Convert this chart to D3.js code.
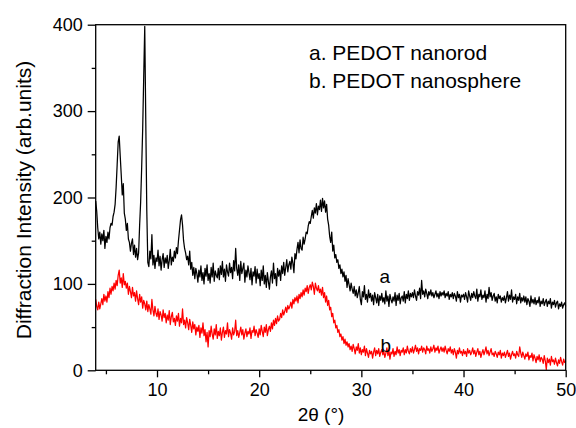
<!DOCTYPE html>
<html>
<head>
<meta charset="utf-8">
<script src="https://cdn.jsdelivr.net/npm/d3@7"></script>
<style>
  body { margin: 0; background: #fff; }
  svg text { font-family: "Liberation Sans", Arial, sans-serif; fill: #000; }
</style>
</head>
<body>
<svg width="576" height="428"></svg>
<script>
// scan: 2θ from 4 to 50 deg, step 0.1
const scanStart = 4, scanStep = 0.1;

// a. PEDOT nanorod (black)
const nanorod = [
  196, 184, 165, 152, 160, 146, 158, 150, 162, 141,
  155, 148, 160, 152, 165, 170, 168, 178, 183, 192,
  212, 238, 264, 271, 248, 226, 203, 216, 182, 175,
  162, 170, 152, 148, 138, 147, 152, 134, 145, 131,
  141, 128, 136, 168, 195, 235, 280, 340, 398, 290,
  185, 125, 120, 138, 129, 157, 122, 133, 118, 130,
  126, 139, 121, 132, 116, 128, 135, 119, 130, 124,
  133, 118, 127, 140, 122, 131, 126, 138, 130, 142,
  135, 150, 162, 174, 180, 168, 150, 141, 136, 128,
  132, 122, 138, 117, 125, 110, 119, 106, 118, 112,
  102, 116, 108, 121, 104, 113, 100, 118, 109, 122,
  104, 112, 101, 119, 108, 124, 103, 115, 110, 107,
  118, 105, 121, 111, 126, 108, 117, 103, 122, 114,
  109, 124, 113, 119, 106, 127, 115, 141, 118, 110,
  122, 104, 126, 112, 118, 124, 102, 116, 108, 121,
  113, 105, 118, 99, 114, 109, 120, 101, 117, 106,
  112, 98, 116, 104, 121, 100, 110, 96, 113, 103,
  94, 108, 115, 101, 124, 106, 112, 98, 118, 109,
  116, 104, 121, 112, 125, 110, 119, 128, 114, 122,
  126, 117, 131, 124, 113, 135, 129, 140, 148, 136,
  151, 141, 139, 154, 146, 152, 160, 158, 167, 172,
  170, 178, 185, 176, 188, 182, 193, 180, 190, 186,
  197, 184, 199, 188, 196, 183, 192, 175, 168, 155,
  148, 160, 138, 145, 130, 134, 125, 128, 118, 122,
  112, 117, 108, 114, 103, 110, 96, 106, 99, 92,
  101, 94, 89, 97, 86, 93, 84, 90, 97, 82,
  76, 91, 85, 98, 82, 88, 79, 93, 84, 89,
  80, 87, 76, 90, 84, 78, 88, 75, 86, 81,
  89, 79, 84, 77, 92, 80, 86, 74, 88, 82,
  78, 85, 80, 90, 75, 87, 81, 89, 77, 84,
  86, 80, 91, 78, 88, 83, 92, 81, 89, 85,
  90, 84, 93, 86, 81, 91, 87, 95, 83, 104,
  88, 92, 85, 94, 89, 83, 91, 87, 93, 86,
  90, 84, 88, 92, 85, 89, 83, 91, 86, 90,
  87, 92, 84, 89, 86, 91, 82, 88, 85, 90,
  83, 89, 86, 80, 91, 84, 88, 79, 87, 85,
  88, 82, 90, 85, 79, 92, 86, 81, 89, 84,
  91, 86, 83, 94, 80, 88, 85, 93, 82, 87,
  84, 92, 79, 88, 83, 96, 85, 90, 81, 86,
  89, 80, 85, 78, 88, 83, 86, 79, 84, 81,
  86, 78, 84, 91, 80, 87, 82, 93, 79, 85,
  82, 88, 77, 85, 81, 89, 78, 84, 80, 86,
  79, 85, 76, 83, 80, 74, 86, 78, 82, 77,
  84, 76, 81, 78, 85, 74, 80, 77, 83, 75,
  79, 82, 74, 80, 77, 83, 72, 79, 76, 81,
  73, 78, 80, 71, 77, 74, 79, 72, 76, 78,
  74
];

// b. PEDOT nanosphere (red)
const nanosphere = [
  82, 74, 70, 79, 71, 77, 83, 76, 88, 80,
  86, 79, 91, 84, 95, 88, 97, 92, 101, 94,
  104, 98, 110, 116, 101, 107, 96, 112, 99, 103,
  95, 101, 88, 97, 91, 84, 96, 86, 90, 80,
  92, 83, 76, 88, 79, 85, 72, 81, 77, 70,
  80, 68, 76, 71, 65, 82, 70, 63, 74, 66,
  62, 71, 59, 68, 64, 57, 70, 61, 66, 55,
  64, 58, 69, 53, 62, 67, 56, 60, 52, 63,
  57, 66, 51, 60, 55, 71, 53, 58, 49, 61,
  55, 47, 59, 52, 44, 56, 48, 53, 41, 50,
  45, 52, 38, 49, 43, 55, 40, 47, 33, 44,
  27, 46, 39, 51, 42, 36, 48, 41, 53, 37,
  45, 40, 49, 35, 44, 50, 38, 46, 42, 55,
  39, 47, 43, 36, 49, 41, 45, 58, 40, 46,
  38, 44, 50, 41, 47, 36, 43, 48, 39, 45,
  42, 49, 37, 46, 44, 51, 40, 47, 43, 38,
  48, 41, 52, 45, 39, 50, 44, 53, 40, 47,
  51, 45, 55, 48, 58, 52, 60, 54, 63, 57,
  59, 66, 61, 70, 64, 68, 73, 67, 75, 71,
  74, 79, 72, 82, 77, 84, 80, 86, 78, 88,
  83, 90, 85, 93, 87, 95, 91, 98, 89, 96,
  99, 93, 102, 97, 88, 101, 95, 92, 98, 90,
  94, 87, 96, 84, 90, 79, 86, 75, 81, 70,
  73, 62, 66, 55, 58, 49, 52, 44, 47, 39,
  42, 35, 39, 31, 36, 29, 33, 27, 31, 24,
  28, 22, 30, 25, 19, 27, 23, 31, 20, 26,
  18, 24, 21, 28, 17, 25, 20, 15, 23, 19,
  22, 14, 21, 26, 17, 23, 19, 25, 16, 21,
  24, 18, 22, 15, 20, 26, 17, 23, 13, 21,
  19, 25, 16, 22, 18, 27, 20, 24, 17, 23,
  21, 26, 18, 24, 20, 28, 22, 19, 25, 21,
  27, 20, 24, 29, 22, 26, 19, 25, 23, 28,
  21, 26, 24, 19, 28, 23, 25, 20, 27, 22,
  25, 29, 21, 26, 23, 28, 20, 24, 27, 22,
  26, 21, 28, 23, 19, 25, 22, 27, 20, 24,
  18, 25, 21, 14, 23, 19, 26, 20, 22, 17,
  24, 19, 22, 16, 25, 20, 23, 18, 21, 26,
  19, 23, 16, 21, 25, 18, 22, 15, 20, 24,
  18, 22, 27, 19, 23, 17, 21, 25, 18, 20,
  16, 22, 19, 15, 21, 18, 23, 14, 20, 17,
  21, 15, 19, 23, 16, 20, 13, 18, 22, 17,
  19, 14, 22, 18, 16, 27, 20, 15, 21, 17,
  13, 19, 16, 21, 12, 17, 15, 20, 11, 18,
  14, 9, 16, 12, 18, 10, 15, 13, 8, 17,
  11, 1, 14, 9, 13, 6, 16, 10, 12, 7,
  14, 9, 5, 12, 8, 15, 10, 6, 13, 9,
  11
];

const xTicks = [10, 20, 30, 40, 50];
const xMinorTicks = [5, 15, 25, 35, 45];
const yTicks = [0, 100, 200, 300, 400];
const yMinorTicks = [50, 150, 250, 350];
const legendLines = ["a. PEDOT nanorod", "b. PEDOT nanosphere"];

const width = 576, height = 428;
const margin = { top: 24.7, right: 10.3, bottom: 57.7, left: 95.7 };

const svg = d3.select("svg");

const x = d3.scaleLinear()
    .domain([4, 50])
    .range([margin.left, width - margin.right]);

const y = d3.scaleLinear()
    .domain([0, 400])
    .range([height - margin.bottom, margin.top]);

// curves
const line = d3.line()
    .x((d, i) => x(scanStart + i * scanStep))
    .y(d => y(d));

svg.append("path")
    .datum(nanosphere)
    .attr("fill", "none")
    .attr("stroke", "#ff0000")
    .attr("stroke-width", 1.25)
    .attr("stroke-linejoin", "round")
    .attr("d", line);

svg.append("path")
    .datum(nanorod)
    .attr("fill", "none")
    .attr("stroke", "#000")
    .attr("stroke-width", 1.25)
    .attr("stroke-linejoin", "round")
    .attr("d", line);

// frame
svg.append("rect")
    .attr("x", margin.left)
    .attr("y", margin.top)
    .attr("width", width - margin.left - margin.right)
    .attr("height", height - margin.top - margin.bottom)
    .attr("fill", "none")
    .attr("stroke", "#000")
    .attr("stroke-width", 1.3);

// axes
const xAxis = svg.append("g")
    .attr("transform", `translate(0,${height - margin.bottom})`)
    .call(d3.axisBottom(x).tickValues(xTicks).tickSize(7).tickSizeOuter(0).tickPadding(6));

svg.append("g")
    .attr("transform", `translate(0,${height - margin.bottom})`)
    .call(d3.axisBottom(x).tickValues(xMinorTicks).tickSize(4).tickFormat(""))
    .call(g => g.select(".domain").remove());

const yAxis = svg.append("g")
    .attr("transform", `translate(${margin.left},0)`)
    .call(d3.axisLeft(y).tickValues(yTicks).tickSize(8).tickSizeOuter(0).tickPadding(5));

svg.append("g")
    .attr("transform", `translate(${margin.left},0)`)
    .call(d3.axisLeft(y).tickValues(yMinorTicks).tickSize(4).tickFormat(""))
    .call(g => g.select(".domain").remove());

svg.selectAll(".domain").remove();
svg.selectAll(".tick line").attr("stroke", "#000").attr("stroke-width", 1.3);
xAxis.selectAll(".tick text").style("font-size", "18px");
yAxis.selectAll(".tick text").style("font-size", "18px");

// axis titles
svg.append("text")
    .attr("x", 321)
    .attr("y", 421)
    .attr("text-anchor", "middle")
    .style("font-size", "19px")
    .text("2θ (°)");

svg.append("text")
    .attr("transform", "translate(30.5,200) rotate(-90)")
    .attr("text-anchor", "middle")
    .style("font-size", "21px")
    .text("Diffraction Intensity (arb.units)");

// legend text
svg.selectAll("text.legend")
    .data(legendLines)
    .enter().append("text")
    .attr("class", "legend")
    .attr("x", 309)
    .attr("y", (d, i) => 60 + i * 28)
    .style("font-size", "21px")
    .text(d => d);

// curve labels
svg.append("text")
    .attr("x", x(32.3))
    .attr("y", 283)
    .attr("text-anchor", "middle")
    .style("font-size", "19px")
    .text("a");

svg.append("text")
    .attr("x", x(32.4))
    .attr("y", 352)
    .attr("text-anchor", "middle")
    .style("font-size", "19px")
    .text("b");
</script>
</body>
</html>
